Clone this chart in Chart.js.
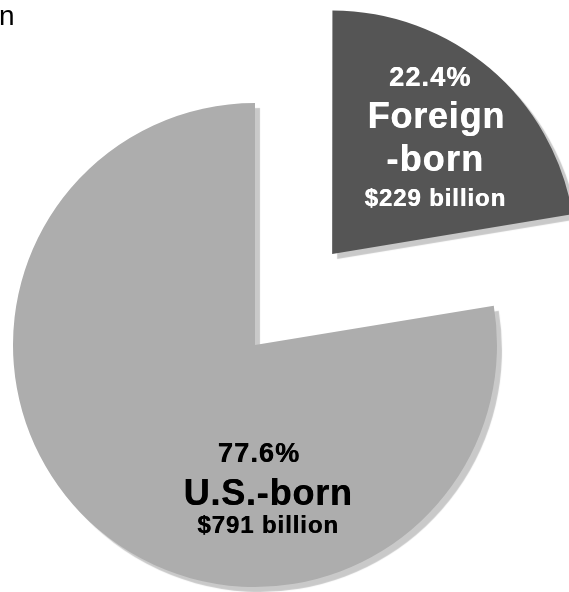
<!DOCTYPE html>
<html>
<head>
<meta charset="utf-8">
<script src="https://cdn.jsdelivr.net/npm/chart.js@4/dist/chart.umd.min.js"></script>
<style>
  html, body { margin: 0; padding: 0; background: #fff; }
  #wrap { position: relative; width: 569px; height: 592px; }
</style>
</head>
<body>
<div id="wrap"><canvas id="pie"></canvas></div>
<script>
// Earnings split by nativity
const groups   = ['Foreign-born', 'U.S.-born'];
const shares   = [22.4, 77.6];          // percent of total
const billions = [229, 791];            // $ billion
const pctText  = ['22.4%', '77.6%'];
const nameText = [['Foreign', '-born'], ['U.S.-born']];
const amtText  = ['$229 billion', '$791 billion'];

const FONT = '"Liberation Sans", Arial, Helvetica, sans-serif';

// light grey drop shadow under the slices
const shadowPlugin = {
    id: 'sliceShadow',
    beforeDatasetsDraw(chart) {
        const ctx = chart.ctx;
        ctx.save();
        ctx.shadowColor   = '#c9c9c9';
        ctx.shadowOffsetX = 5;
        ctx.shadowOffsetY = 5;
        ctx.shadowBlur    = 1;
    },
    afterDatasetsDraw(chart) {
        chart.ctx.restore();
    },
};

function line(ctx, text, x, y, size, color, spacing) {
    ctx.font = 'bold ' + size + 'px ' + FONT;
    ctx.fillStyle = color;
    ctx.letterSpacing = spacing + 'px';
    ctx.textAlign = 'center';
    ctx.textBaseline = 'alphabetic';
    ctx.fillText(text, x, y);
    // second pass, nudged, for the heavier stroke of the original
    ctx.fillText(text, x + 0.5, y);
}

// slice labels, drawn relative to each (exploded) slice's centre
const labelPlugin = {
    id: 'sliceLabels',
    afterDraw(chart) {
        const ctx  = chart.ctx;
        const arcs = chart.getDatasetMeta(0).data;
        ctx.save();

        // Foreign-born (exploded)
        const a0 = arcs[0];
        const half0 = (a0.startAngle + a0.endAngle) / 2;
        const off0  = (a0.options.offset || 0) / 4;
        const fix0  = 1 - Math.sin(Math.min(Math.PI, a0.circumference));
        const cx0 = a0.x + Math.cos(half0) * off0 * (1 + fix0);
        const cy0 = a0.y + Math.sin(half0) * off0 * (1 + fix0);
        line(ctx, pctText[0],     cx0 + 97,  cy0 - 167, 27, '#ffffff', 1.2);
        line(ctx, nameText[0][0], cx0 + 103, cy0 - 125, 36, '#ffffff', 0.8);
        line(ctx, nameText[0][1], cx0 + 102, cy0 - 82,  36, '#ffffff', 1.2);
        line(ctx, amtText[0],     cx0 + 102, cy0 - 47,  24, '#ffffff', 0.9);

        // U.S.-born
        const a1 = arcs[1];
        line(ctx, pctText[1],     a1.x + 4,  a1.y + 117, 27, '#000000', 1.2);
        line(ctx, nameText[1][0], a1.x + 13, a1.y + 160, 36, '#000000', 0.8);
        line(ctx, amtText[1],     a1.x + 13, a1.y + 188, 24, '#000000', 0.9);

        // clipped title fragment at the top-left corner
        ctx.font = '28px ' + FONT;
        ctx.letterSpacing = '0px';
        ctx.fillStyle = '#000';
        ctx.textAlign = 'left';
        ctx.fillText('n', -1, 25);

        ctx.restore();
    },
};

new Chart(document.getElementById('pie'), {
    type: 'pie',
    data: {
        labels: groups,
        datasets: [{
            data: shares,
            backgroundColor: ['#555555', '#adadad'],
            borderWidth: 0,
            offset: [477, 0],
            hoverOffset: 0,
            clip: false,
        }],
    },
    options: {
        responsive: true,
        maintainAspectRatio: false,
        animation: false,
        radius: 242,
        rotation: 0,
        layout: { padding: { left: 0, right: 59, top: 98, bottom: 0 } },
        plugins: {
            legend:  { display: false },
            tooltip: { enabled: false },
        },
    },
    plugins: [shadowPlugin, labelPlugin],
});
</script>
</body>
</html>
